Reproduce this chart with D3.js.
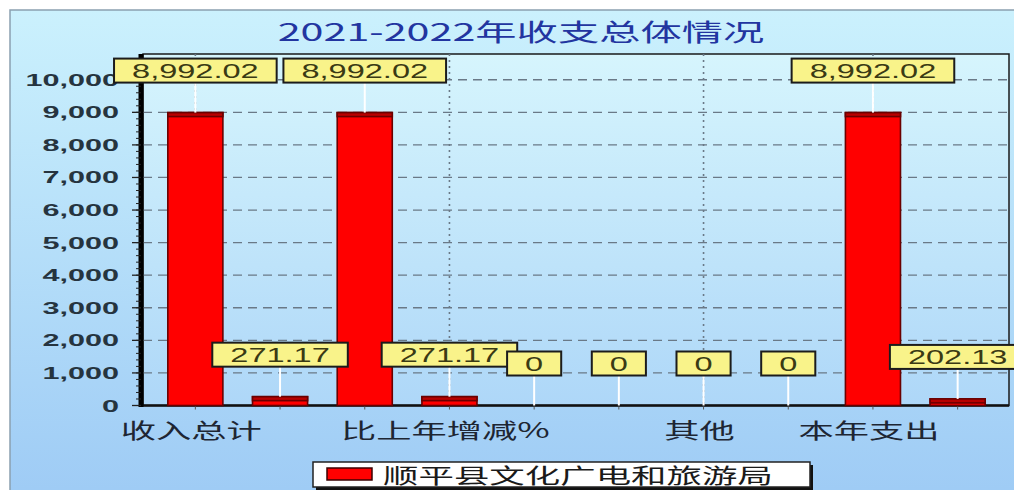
<!DOCTYPE html>
<html><head><meta charset="utf-8">
<script src="https://cdn.jsdelivr.net/npm/d3@7/dist/d3.min.js"></script>
<style>html,body{margin:0;padding:0;background:#fff;overflow:hidden}</style>
</head><body>
<svg id="chart" width="1014" height="490"></svg>
<script>
// ---- data ----
const title = "2021-2022年收支总体情况";
const seriesName = "顺平县文化广电和旅游局";
const values = [8992.02, 271.17, 8992.02, 271.17, 0, 0, 0, 0, 8992.02, 202.13];
const tickLabels = ["收入总计", "", "", "比上年增减%", "", "", "其他", "", "本年支出", ""];
const yTicks = [0, 1000, 2000, 3000, 4000, 5000, 6000, 7000, 8000, 9000, 10000];

// ---- layout ----
const svg = d3.select("#chart");
const plot = {l: 143, t: 54, r: 1009, b: 405.5};
const CJK = "'Noto Sans CJK SC','Noto Sans',sans-serif";
const LAT = "'Liberation Sans',Arial,sans-serif";

const defs = svg.append("defs");
const g1 = defs.append("linearGradient").attr("id","bg").attr("x1",0).attr("y1",0).attr("x2",0).attr("y2",1);
g1.append("stop").attr("offset","0%").attr("stop-color","#cbf1fd");
g1.append("stop").attr("offset","100%").attr("stop-color","#9ecbf5");
const g2 = defs.append("linearGradient").attr("id","pg").attr("x1",0).attr("y1",0).attr("x2",0).attr("y2",1);
g2.append("stop").attr("offset","0%").attr("stop-color","#d6f5fd");
g2.append("stop").attr("offset","100%").attr("stop-color","#aed7f8");

svg.append("rect").attr("x",10).attr("y",10).attr("width",1010).attr("height",490)
  .attr("fill","url(#bg)").attr("stroke","#8aa0b0").attr("stroke-width",1.5);

const x = d3.scaleBand().domain(d3.range(values.length)).range([153, 1000])
  .paddingInner(0.35).paddingOuter(0.175);
const y = d3.scaleLinear().domain([0, d3.max(values) * 1.2]).range([plot.b, plot.t]);

svg.append("rect").attr("x",plot.l).attr("y",plot.t).attr("width",plot.r-plot.l).attr("height",plot.b-plot.t)
  .attr("fill","url(#pg)").attr("stroke","#1a1a1a").attr("stroke-width",1.5);

function stext(sel, str, xx, yy, size, sx, opts) {
  opts = opts || {};
  const t = sel.append("text").text(str)
    .attr("font-family", opts.family || LAT).attr("font-size", size)
    .attr("font-weight", opts.weight || "normal")
    .attr("fill", opts.fill || "#000")
    .attr("text-anchor", opts.anchor || "start");
  if (opts.fitWidth) {
    const w = t.node().getComputedTextLength();
    sx = opts.fitWidth / w;
  }
  t.attr("transform", `translate(${xx},${yy}) scale(${sx},1)`);
  return t;
}

// title
stext(svg, title, 521, 41, 24, 1, {family: CJK, fill: "#2235a0", anchor: "middle", fitWidth: 487});

// gridlines
const grid = svg.append("g");
grid.selectAll("line.h").data(yTicks.filter(d => d > 0)).join("line")
  .attr("x1", plot.l).attr("x2", plot.r).attr("y1", d => y(d)).attr("y2", d => y(d))
  .attr("stroke", "#6a7987").attr("stroke-width", 1.3).attr("stroke-dasharray", "9,6");
grid.selectAll("line.v").data(d3.range(values.length).filter(i => tickLabels[i] !== "")).join("line")
  .attr("x1", i => x(i) + x.bandwidth()/2).attr("x2", i => x(i) + x.bandwidth()/2)
  .attr("y1", plot.t).attr("y2", plot.b)
  .attr("stroke", "#6a7987").attr("stroke-width", 1.6).attr("stroke-dasharray", "2,4");

// baseline
svg.append("line").attr("x1", plot.l).attr("x2", plot.r).attr("y1", plot.b).attr("y2", plot.b)
  .attr("stroke", "#111").attr("stroke-width", 2.5);

// bars
const bars = svg.append("g");
values.forEach((v, i) => {
  const bx = x(i), bw = x.bandwidth(), top = y(v), h = plot.b - top;
  bars.append("rect").attr("x", bx).attr("y", top).attr("width", bw).attr("height", h)
    .attr("fill", "#ff0000").attr("stroke", "#6a0000").attr("stroke-width", 1.6);
  bars.append("rect").attr("x", bx).attr("y", top).attr("width", bw).attr("height", Math.min(4, h))
    .attr("fill", "#b80000").attr("stroke", "#6a0000").attr("stroke-width", 1.6);
});

// minor x ticks
svg.selectAll("line.xt").data(d3.range(values.length)).join("line")
  .attr("x1", i => x(i) + x.bandwidth()/2).attr("x2", i => x(i) + x.bandwidth()/2)
  .attr("y1", plot.b + 1).attr("y2", plot.b + 4).attr("stroke", "#555").attr("stroke-width", 1);

// y axis
const yAxis = svg.append("g");
yAxis.append("line").attr("x1", 141).attr("x2", 141).attr("y1", plot.t).attr("y2", plot.b + 1.5)
  .attr("stroke", "#000").attr("stroke-width", 5);
yAxis.selectAll("line.mt").data(d3.range(0, 10001, 200)).join("line")
  .attr("x1", 136).attr("x2", 141).attr("y1", d => y(d)).attr("y2", d => y(d))
  .attr("stroke", "#222").attr("stroke-width", 1);
yAxis.selectAll("line.Mt").data(yTicks).join("line")
  .attr("x1", 132).attr("x2", 141).attr("y1", d => y(d)).attr("y2", d => y(d))
  .attr("stroke", "#222").attr("stroke-width", 1.3);
const fmt = d3.format(",");
yTicks.forEach(d => {
  stext(yAxis, fmt(d), 119, y(d) + 6, 17, 1.8, {weight: "bold", fill: "#26343f", anchor: "end"});
});

// x labels
tickLabels.forEach((lab, i) => {
  if (!lab) return;
  stext(svg, lab, x(i) + x.bandwidth()/2 - 4, 438, 21, 1.68, {family: CJK, fill: "#1e2633", anchor: "middle"});
});

// data labels
const lbl = svg.append("g");
values.forEach((v, i) => {
  const cx = x(i) + x.bandwidth()/2, top = y(v);
  lbl.append("line").attr("x1", cx).attr("x2", cx).attr("y1", top - 30).attr("y2", top)
    .attr("stroke", "#ffffff").attr("stroke-width", 2);
});
values.forEach((v, i) => {
  const cx = x(i) + x.bandwidth()/2, top = y(v);
  const gg = lbl.append("g");
  const box = gg.append("rect");
  const t = stext(gg, fmt(v), cx, top - 30 - 4.5, 21, 1.55, {fill: "#3a3a14", anchor: "middle"});
  const tw = t.node().getComputedTextLength() * 1.55;
  const bw = tw + 36;
  box.attr("x", cx - bw/2).attr("y", top - 54).attr("width", bw).attr("height", 24)
    .attr("fill", "#f9f38a").attr("stroke", "#1c1c1c").attr("stroke-width", 2);
});

// legend
const lg = svg.append("g");
lg.append("rect").attr("x", 316).attr("y", 465).attr("width", 497).attr("height", 25).attr("fill", "#111");
lg.append("rect").attr("x", 313).attr("y", 462).attr("width", 497).attr("height", 25)
  .attr("fill", "#ffffff").attr("stroke", "#222").attr("stroke-width", 1.5);
lg.append("rect").attr("x", 327).attr("y", 468).attr("width", 45).attr("height", 12)
  .attr("fill", "#ff0000").attr("stroke", "#3a0000").attr("stroke-width", 1.5);
stext(lg, seriesName, 383, 483, 21, 1, {family: CJK, fill: "#1a1a1a", fitWidth: 390});
</script>
</body></html>
